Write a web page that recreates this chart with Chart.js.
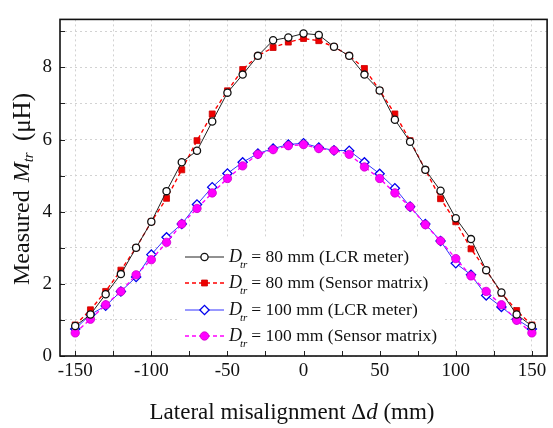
<!DOCTYPE html>
<html>
<head>
<meta charset="utf-8">
<script src="https://cdn.jsdelivr.net/npm/chart.js@4.4.0/dist/chart.umd.min.js"></script>
<style>
  html, body { margin: 0; padding: 0; background: #fff; }
</style>
</head>
<body>
<canvas id="chart" width="553" height="428"></canvas>
<script>
// lateral offsets (mm)
const offsets = [-150,-140,-130,-120,-110,-100,-90,-80,-70,-60,-50,-40,-30,-20,-10,0,10,20,30,40,50,60,70,80,90,100,110,120,130,140,150];

// measured mutual inductance (uH)
const lcr80 = [0.83,1.15,1.71,2.27,3.00,3.72,4.57,5.37,5.69,6.50,7.30,7.80,8.32,8.75,8.83,8.94,8.90,8.57,8.32,7.80,7.36,6.55,5.94,5.16,4.58,3.82,3.24,2.38,1.76,1.15,0.83];
const sensor80 = [0.86,1.28,1.79,2.38,3.00,3.72,4.37,5.16,5.97,6.71,7.35,7.94,8.32,8.55,8.70,8.80,8.74,8.57,8.32,7.97,7.36,6.71,5.97,5.16,4.36,3.72,2.97,2.38,1.74,1.26,0.86];
const lcr100 = [0.75,1.15,1.39,1.79,2.19,2.81,3.29,3.66,4.20,4.68,5.06,5.37,5.61,5.75,5.86,5.90,5.78,5.70,5.69,5.37,5.05,4.65,4.14,3.66,3.19,2.57,2.25,1.68,1.36,1.02,0.75];
const sensor100 = [0.64,1.02,1.42,1.79,2.25,2.67,3.15,3.66,4.09,4.52,4.92,5.27,5.59,5.72,5.83,5.86,5.75,5.70,5.59,5.24,4.92,4.52,4.14,3.64,3.19,2.70,2.22,1.79,1.42,0.99,0.64];

const xTickLabels = [-150,-100,-50,0,50,100,150];
const yTickLabels = [0,2,4,6,8];
const seriesNames = ['80 mm (LCR meter)', '80 mm (Sensor matrix)', '100 mm (LCR meter)', '100 mm (Sensor matrix)'];

const SERIF = '"Liberation Serif", "Times New Roman", serif';

function toPoints(arr) {
    return arr.map((v, i) => ({ x: offsets[i], y: v }));
}

// draw a run of text pieces (italic / subscript) starting at x
function richText(ctx, parts, x, y) {
    let cx = x;
    parts.forEach(p => {
        ctx.font = (p.i ? 'italic ' : '') + p.s + 'px ' + SERIF;
        cx += (p.dx || 0);
        ctx.fillText(p.t, cx, y + (p.dy || 0));
        cx += ctx.measureText(p.t).width;
    });
    return cx - x;
}
function richWidth(ctx, parts) {
    let w = 0;
    parts.forEach(p => {
        ctx.font = (p.i ? 'italic ' : '') + p.s + 'px ' + SERIF;
        w += (p.dx || 0) + ctx.measureText(p.t).width;
    });
    return w;
}

const datasets = [
    { data: toPoints(lcr80), borderColor: '#222', borderWidth: 1, backgroundColor: '#fff',
      pointStyle: 'circle', pointRadius: 3.6, pointBorderWidth: 1.3, pointBorderColor: '#111', order: 0 },
    { data: toPoints(sensor80), borderColor: '#ff0000', borderWidth: 1.4, borderDash: [4, 3], backgroundColor: '#ee0000',
      pointStyle: 'rect', pointRadius: 4.2, pointBorderWidth: 0.8, pointBorderColor: '#cc0000', order: 1 },
    { data: toPoints(lcr100), borderColor: '#3333ff', borderWidth: 1, backgroundColor: '#fff',
      pointStyle: 'rectRot', pointRadius: 4.6, pointBorderWidth: 1.3, pointBorderColor: '#0000ee', order: 3 },
    { data: toPoints(sensor100), borderColor: '#ff00ff', borderWidth: 1.4, borderDash: [4, 3], backgroundColor: '#ff00ff',
      pointStyle: 'circle', pointRadius: 4.2, pointBorderWidth: 0.8, pointBorderColor: '#cc00cc', order: 2 }
];

const framePlugin = {
    id: 'frame',
    beforeDatasetsDraw(chart) {
        // white legend box hides the grid behind it
        const a = chart.chartArea, ctx = chart.ctx;
        ctx.save();
        ctx.fillStyle = '#fff';
        ctx.fillRect(177, 238, 266, a.bottom - 238);
        ctx.restore();
    },
    afterDatasetsDraw(chart) {
        const a = chart.chartArea, ctx = chart.ctx;
        const xs = chart.scales.x, ys = chart.scales.y;
        ctx.save();
        ctx.strokeStyle = '#222';
        ctx.lineWidth = 1;
        // inward ticks
        ctx.beginPath();
        xs.ticks.forEach(t => {
            const px = Math.round(xs.getPixelForValue(t.value)) + 0.5;
            ctx.moveTo(px, a.bottom); ctx.lineTo(px, a.bottom - 5);
        });
        ys.ticks.forEach(t => {
            const py = Math.round(ys.getPixelForValue(t.value)) + 0.5;
            ctx.moveTo(a.left, py); ctx.lineTo(a.left + 5, py);
        });
        ctx.stroke();
        // frame
        ctx.lineWidth = 1.6;
        ctx.strokeStyle = '#111';
        ctx.strokeRect(a.left, a.top, a.right - a.left, a.bottom - a.top);
        ctx.restore();
    },
    afterDraw(chart) {
        const ctx = chart.ctx;
        ctx.save();
        ctx.fillStyle = '#111';
        ctx.textBaseline = 'middle';

        // legend
        const rows = [257, 283, 310, 336];
        datasets.forEach((ds, i) => {
            const y = rows[i];
            ctx.save();
            ctx.strokeStyle = ds.borderColor;
            ctx.lineWidth = ds.borderWidth;
            ctx.setLineDash(ds.borderDash || []);
            ctx.beginPath();
            ctx.moveTo(185, y); ctx.lineTo(224, y);
            ctx.stroke();
            ctx.setLineDash([]);
            ctx.fillStyle = ds.backgroundColor;
            ctx.strokeStyle = ds.pointBorderColor;
            ctx.lineWidth = ds.pointBorderWidth;
            Chart.helpers.drawPoint(ctx, { pointStyle: ds.pointStyle, radius: ds.pointRadius, rotation: 0, borderWidth: ds.pointBorderWidth }, 204.5, y);
            ctx.restore();
            richText(ctx, [
                { t: 'D', i: true, s: 18 },
                { t: 'tr', i: true, s: 11, dx: -2, dy: 8 },
                { t: '= ' + seriesNames[i], s: 17.5, dx: 4 }
            ], 229, y);
        });

        // x axis title
        const xParts = [
            { t: 'Lateral misalignment \u0394', s: 23 },
            { t: 'd', i: true, s: 23 },
            { t: ' (mm)', s: 23 }
        ];
        const xw = richWidth(ctx, xParts);
        richText(ctx, xParts, 292 - xw / 2, 413);

        // y axis title (rotated)
        const yParts = [
            { t: 'Measured ', s: 24 },
            { t: 'M', i: true, s: 24, dx: 2 },
            { t: 'tr', i: true, s: 15, dy: 6 },
            { t: ' (\u03bcH)', s: 25, dx: 5 }
        ];
        const yw = richWidth(ctx, yParts);
        ctx.translate(23, 189);
        ctx.rotate(-Math.PI / 2);
        richText(ctx, yParts, -yw / 2, 0);
        ctx.restore();
    }
};

new Chart(document.getElementById('chart').getContext('2d'), {
    type: 'line',
    data: { datasets: datasets },
    options: {
        responsive: false,
        animation: false,
        devicePixelRatio: 1,
        layout: { padding: { top: 7, right: 1, left: 0, bottom: 0 } },
        plugins: { legend: { display: false }, tooltip: { enabled: false } },
        scales: {
            x: {
                type: 'linear', min: -160, max: 160,
                afterFit: s => { s.height = 72; },
                ticks: {
                    stepSize: 25, includeBounds: false, autoSkip: false, maxRotation: 0, padding: 4,
                    color: '#111', font: { family: SERIF, size: 19 },
                    callback: v => xTickLabels.includes(v) ? String(v) : ''
                },
                grid: { color: '#d2d2d2', lineWidth: 1, drawTicks: false },
                border: { display: false, dash: [2, 3] }
            },
            y: {
                min: 0, max: 9.33,
                afterFit: s => { s.width = 60; },
                ticks: {
                    stepSize: 1, includeBounds: false, padding: 8,
                    color: '#111', font: { family: SERIF, size: 19 },
                    callback: v => yTickLabels.includes(v) ? String(v) : ''
                },
                grid: { color: '#d2d2d2', lineWidth: 1, drawTicks: false },
                border: { display: false, dash: [2, 3] }
            }
        }
    },
    plugins: [framePlugin]
});
</script>
</body>
</html>
